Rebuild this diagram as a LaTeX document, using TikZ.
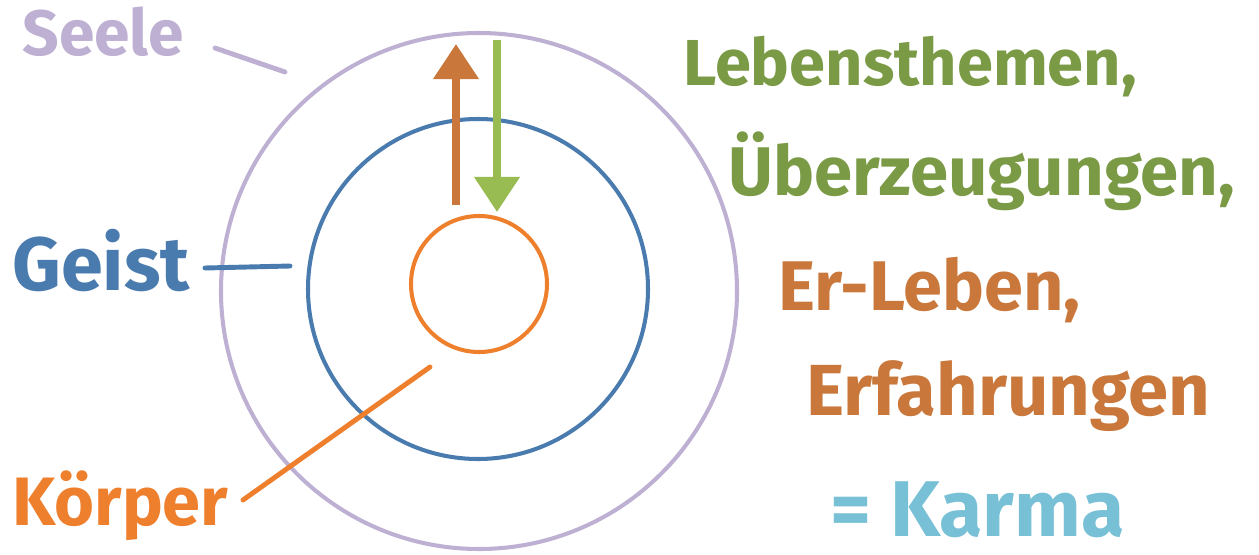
\documentclass[tikz,border=0pt]{standalone}
\usepackage{fontspec}
\setmainfont{Fira Sans}
\usepackage{xcolor}
\usetikzlibrary{arrows.meta,positioning}
\definecolor{seelecol}{HTML}{BDB0D3}
\definecolor{geistcol}{HTML}{4A7BAE}
\definecolor{koerpercol}{HTML}{EE7F2D}
\definecolor{erlebcol}{HTML}{C9773A}
\definecolor{themecol}{HTML}{7A9A45}
\definecolor{arrowgreen}{HTML}{98BC52}
\definecolor{karmacol}{HTML}{78C0D6}

\begin{document}
\begin{tikzpicture}[x=0.02cm,y=-0.02cm,
    word/.style={inner sep=0pt,anchor=base west,font=\fontsize{#1}{#1}\selectfont\bfseries},
    ring/.style={line width=2.3pt},
    leader/.style={line width=2.8pt,line cap=round}]
  \useasboundingbox (0,0) rectangle (1259,555);
  % rings
  \draw[ring,seelecol] (479,291) circle[radius=258];
  \draw[ring,geistcol] (478,289) circle[radius=170];
  \draw[ring,koerpercol] (479,284) circle[radius=68];
  % labels on the left
  \node[word=36.5,seelecol] (seele) at (22,55) {Seele};
  \node[word=43,geistcol] (geist) at (12,290) {Geist};
  \node[word=39,koerpercol] (koerper) at (12,525) {Körper};
  \coordinate (s1) at (215,48);  \coordinate (s2) at (285,72);
  \coordinate (g1) at (205,268); \coordinate (g2) at (290,266);
  \coordinate (k1) at (243,500); \coordinate (k2) at (430,367);
  \draw[leader,seelecol] (s1)--(s2);
  \draw[leader,geistcol] (g1)--(g2);
  \draw[leader,koerpercol] (k1)--(k2);
  % up and down
  \coordinate (up1) at (456,205); \coordinate (up2) at (456,44);
  \coordinate (dn1) at (497,40);  \coordinate (dn2) at (497,212);
  \draw[line width=4.5pt,erlebcol,-{Triangle[width=25pt,length=20pt]}] (up1)--(up2);
  \draw[line width=4.5pt,arrowgreen,-{Triangle[width=25pt,length=20pt]}] (dn1)--(dn2);
  % right column
  \node[word=37,themecol] (themen) at (683,85) {Lebensthemen,};
  \node[word=39.2,themecol] (ueber) at (728,195) {Überzeugungen,};
  \node[word=40,erlebcol] (erleben) at (778,310) {Er-Leben,};
  \node[word=41.2,erlebcol] (erfahr) at (806,415) {Erfahrungen};
  \node[word=45,karmacol] (karma) at (830,536) {= Karma};
\end{tikzpicture}
\end{document}
